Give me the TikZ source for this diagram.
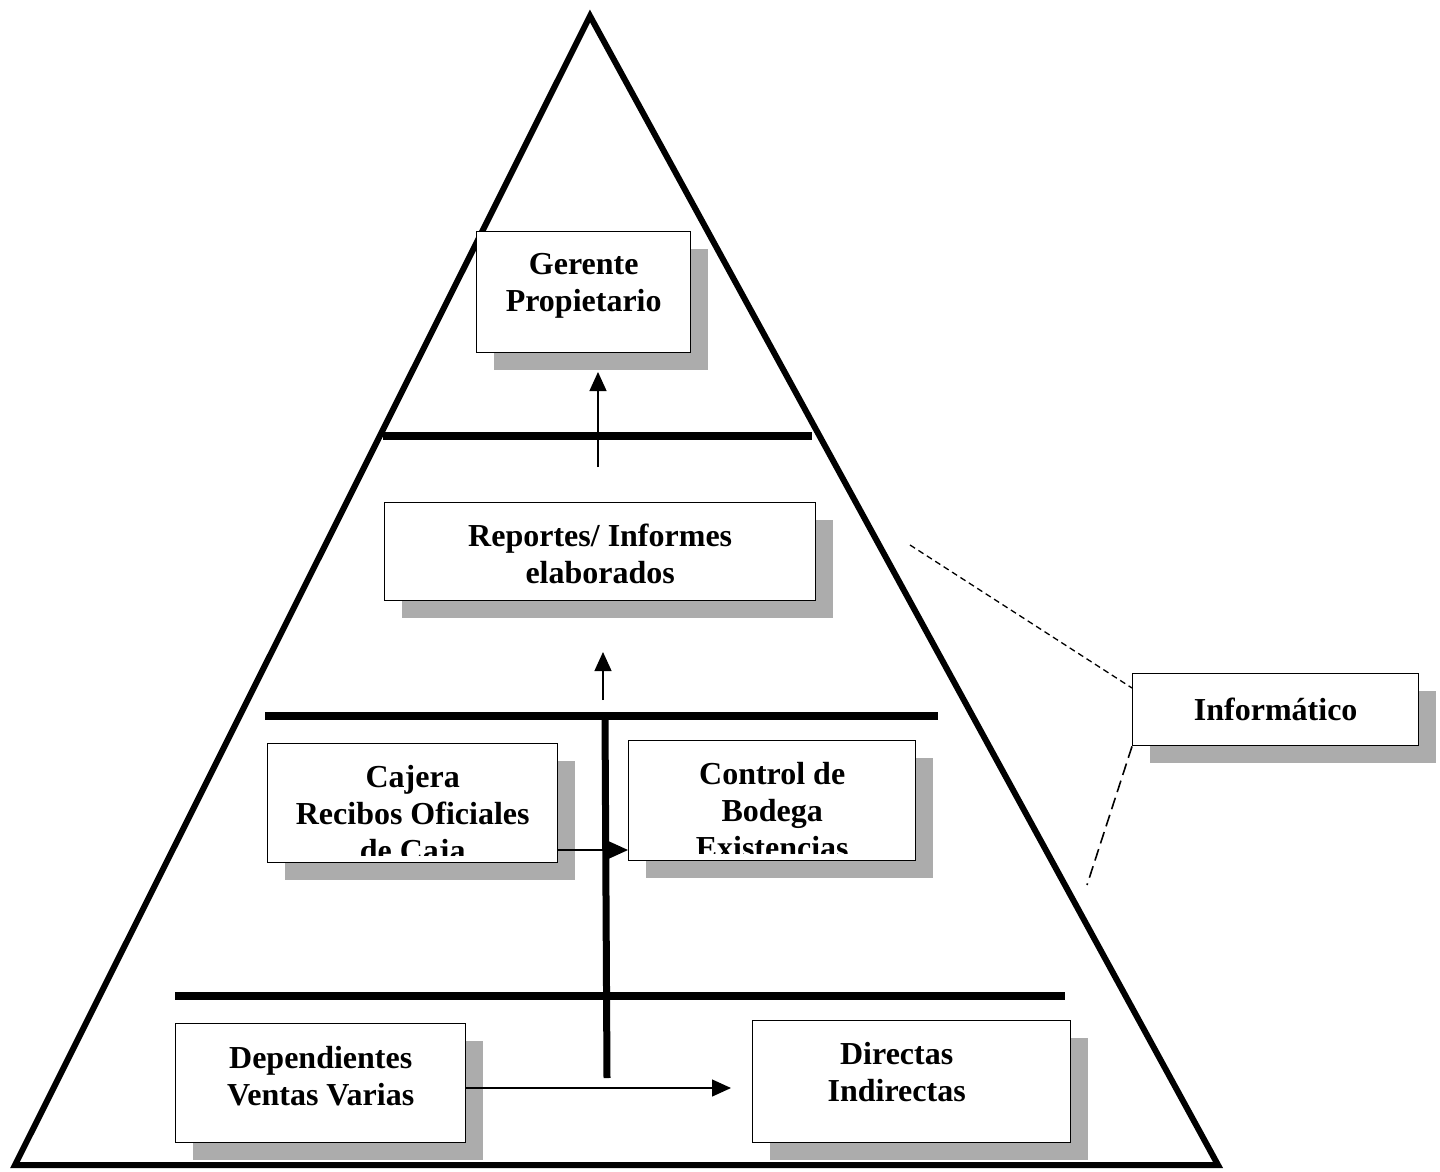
\documentclass[tikz,border=0pt]{standalone}
\usepackage{fontspec}
\setmainfont{Liberation Serif}
\usetikzlibrary{arrows.meta, positioning, shadows}

\begin{document}
\begin{tikzpicture}[x=1pt, y=-1pt,
    box/.style={draw, fill=white, line width=1.4pt, anchor=north west, inner sep=0pt,
        drop shadow={shadow xshift=17pt, shadow yshift=-17pt, fill=gray!65, opacity=1}},
    lbl/.style={font=\fontsize{32}{37}\selectfont\bfseries, align=center, inner sep=0pt},
    bar/.style={line width=8.5pt},
    flow/.style={-{Triangle[length=19pt, width=17pt]}, line width=1.3pt},
    link/.style={line width=1.3pt, dash pattern=on 6pt off 4pt}]
    \useasboundingbox (0,0) rectangle (1440,1172);
    % piramide
    \draw[line width=6pt] (590,16) -- (1218,1165) -- (15,1165) -- cycle;
    \draw[bar] (383,436) -- (812,436);
    \draw[bar] (265,716) -- (938,716);
    \draw[bar] (175,996) -- (1065,996);
    \draw[line width=7pt] (605,716) -- (607,1078);
    % cajas
    \node[box, minimum width=214pt, minimum height=121pt] (gerente) at (476,231) {};
    \node[box, minimum width=431pt, minimum height=98pt] (reportes) at (384,502) {};
    \node[box, minimum width=290pt, minimum height=119pt] (cajera) at (267,743) {};
    \node[box, minimum width=287pt, minimum height=120pt] (control) at (628,740) {};
    \node[box, minimum width=290pt, minimum height=119pt] (dependientes) at (175,1023) {};
    \node[box, minimum width=318pt, minimum height=122pt] (directas) at (752,1020) {};
    \node[box, minimum width=286pt, minimum height=72pt] (informatico) at (1132,673) {};
    % textos
    \node[lbl, below=22pt of gerente.north] (gerenteTxt) {Gerente\\Propietario};
    \node[lbl, below=22pt of reportes.north] (reportesTxt) {Reportes/ Informes\\elaborados};
    \begin{scope}
        \clip (cajera.north west) rectangle ([yshift=8pt]cajera.south east);
        \node[lbl, below=22pt of cajera.north] (cajeraTxt) {Cajera\\Recibos Oficiales\\de Caja};
    \end{scope}
    \begin{scope}
        \clip (control.north west) rectangle ([yshift=8pt]control.south east);
        \node[lbl, below=22pt of control.north] (controlTxt) {Control de\\Bodega\\Existencias};
    \end{scope}
    \node[lbl, below=23pt of dependientes.north] (dependientesTxt) {Dependientes\\Ventas Varias};
    \node[lbl, below=22pt of directas.north, xshift=-15pt] (directasTxt) {Directas\\Indirectas};
    \node[lbl] (informaticoTxt) at (informatico.center) {Informático};
    % flechas
    \coordinate (g0) at (598,467);
    \coordinate (g1) at (598,372);
    \coordinate (r0) at (603,700);
    \coordinate (r1) at (603,652);
    \coordinate (v0) at (465,1088);
    \coordinate (v1) at (731,1088);
    \draw[flow] (g0) -- (g1);
    \draw[flow] (r0) -- (r1);
    \draw[flow] (cajera.east |- 0,850) -- (control.west |- 0,850);
    \draw[flow] (v0) -- (v1);
    % informatico
    \coordinate (i0) at (910,545);
    \coordinate (i1) at (1087,885);
    \draw[link] (i0) -- (informatico.west |- 0,688);
    \draw[link, line width=1.6pt, dash pattern=on 12pt off 6pt] (informatico.south west) -- (i1);
\end{tikzpicture}
\end{document}
